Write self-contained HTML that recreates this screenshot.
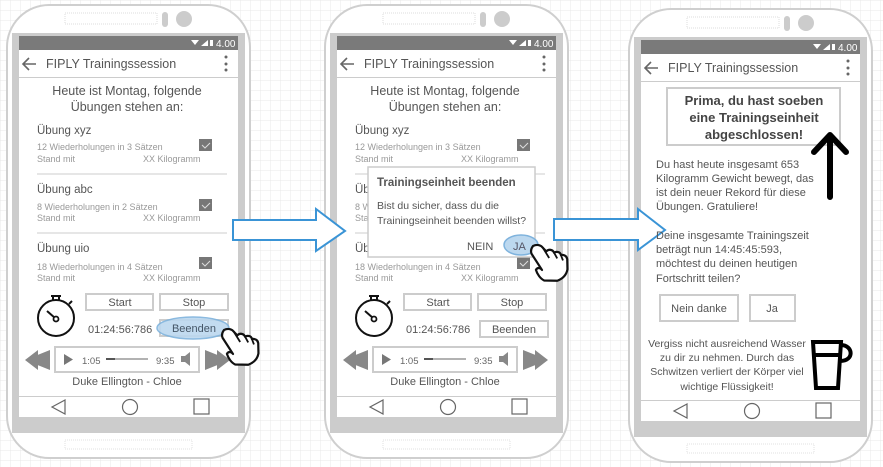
<!DOCTYPE html>
<html><head><meta charset="utf-8"><style>
html,body{margin:0;padding:0;background:#fff;}
svg{display:block;font-family:"Liberation Sans",sans-serif;}
</style></head><body>
<svg width="883" height="467" viewBox="0 0 883 467" xmlns="http://www.w3.org/2000/svg">
<defs>
<pattern id="grid" width="10" height="10" patternUnits="userSpaceOnUse">
<path d="M10 0H0V10" fill="none" stroke="#e8e8e8" stroke-width="1"/>
</pattern>
<g id="frame">
<rect x="7" y="5" width="243" height="453" rx="42" fill="#fff" stroke="#cfcfcf" stroke-width="2"/>
<rect x="65" y="13" width="92" height="11" fill="none" stroke="#ddd" stroke-dasharray="1 1"/>
<rect x="162" y="12" width="6" height="15" rx="3" fill="#ccc"/>
<circle cx="184" cy="19" r="8" fill="#ccc"/>
<rect x="65" y="440" width="127" height="9" fill="none" stroke="#e2e2e2" stroke-dasharray="1 1"/>
<rect x="12" y="33" width="233" height="400" fill="#cccccc"/>
<rect x="19" y="36" width="219" height="14" fill="#7a7a7a"/>
<path d="M191 40 l8 0 l-4 5z" fill="#fff"/>
<path d="M201 46 l7 -6 v6z" fill="#fff"/>
<rect x="210" y="40" width="3" height="6" fill="#fff"/>
<text x="216" y="47" font-size="10" fill="#fff">4.00</text>
<rect x="19" y="50" width="219" height="27" fill="#fff"/>
<path d="M36 64 H23 M29 58 L23 64 L29 70" fill="none" stroke="#666" stroke-width="1.6"/>
<circle cx="226" cy="57" r="1.5" fill="#666"/><circle cx="226" cy="64" r="1.5" fill="#666"/><circle cx="226" cy="70" r="1.5" fill="#666"/>
<text x="46" y="68" font-size="12.5" fill="#555">FIPLY Trainingssession</text>
<rect x="19" y="78" width="219" height="318" fill="#fff"/>
<rect x="19" y="397" width="219" height="20" fill="#fff"/>
<path d="M65 400 L52 407 L65 414z" fill="none" stroke="#666" stroke-width="1.2"/>
<circle cx="130" cy="407" r="7.5" fill="none" stroke="#666" stroke-width="1.2"/>
<rect x="194" y="399" width="15" height="15" fill="none" stroke="#666" stroke-width="1.2"/>
</g>
<g id="list">
<text x="127" y="95" font-size="12.5" fill="#555" text-anchor="middle">Heute ist Montag, folgende</text>
<text x="127" y="111" font-size="12.5" fill="#555" text-anchor="middle">Übungen stehen  an:</text>
<text x="37" y="134" font-size="11.5" fill="#555">Übung xyz</text>
<text x="37" y="150" font-size="9" fill="#999">12 Wiederholungen in 3 Sätzen</text>
<text x="37" y="162" font-size="9" fill="#999">Stand mit</text>
<text x="143" y="162" font-size="9" fill="#999">XX Kilogramm</text>
<rect x="199" y="139" width="13" height="12" fill="#777"/><path d="M202 145 l3 3 l5 -5" stroke="#ddd" fill="none"/>
<line x1="37" y1="174" x2="227" y2="174" stroke="#ccc"/>
<text x="37" y="193" font-size="11.5" fill="#555">Übung abc</text>
<text x="37" y="210" font-size="9" fill="#999">8 Wiederholungen in 2 Sätzen</text>
<text x="37" y="221" font-size="9" fill="#999">Stand mit</text>
<text x="143" y="221" font-size="9" fill="#999">XX Kilogramm</text>
<rect x="199" y="199" width="13" height="12" fill="#777"/><path d="M202 205 l3 3 l5 -5" stroke="#ddd" fill="none"/>
<line x1="37" y1="233" x2="227" y2="233" stroke="#ccc"/>
<text x="37" y="252" font-size="11.5" fill="#555">Übung uio</text>
<text x="37" y="270" font-size="9" fill="#999">18 Wiederholungen in 4 Sätzen</text>
<text x="37" y="281" font-size="9" fill="#999">Stand mit</text>
<text x="143" y="281" font-size="9" fill="#999">XX Kilogramm</text>
<rect x="199" y="257" width="13" height="12" fill="#777"/><path d="M202 263 l3 3 l5 -5" stroke="#ddd" fill="none"/>
<circle cx="56" cy="318" r="18" fill="none" stroke="#111" stroke-width="2"/>
<path d="M51 296 h10 M53 296 v4 M59 296 v4 M69 304 l3 -3" stroke="#111" stroke-width="2" fill="none"/>
<path d="M47 311 L55 318" stroke="#111" stroke-width="2"/><circle cx="56" cy="319" r="2.5" fill="#fff" stroke="#111" stroke-width="1.8"/>
<rect x="86" y="294" width="67" height="16" fill="#fff" stroke="#ccc" stroke-width="2"/>
<text x="120" y="306" font-size="11" fill="#555" text-anchor="middle">Start</text>
<rect x="160" y="294" width="68" height="16" fill="#fff" stroke="#ccc" stroke-width="2"/>
<text x="194" y="306" font-size="11" fill="#555" text-anchor="middle">Stop</text>
<text x="88" y="333" font-size="11" fill="#555">01:24:56:786</text>
<path d="M50 350 L25 360 L50 370z M38 350 L25 360 L38 370z" fill="#888"/>
<path d="M205 350 L230 360 L205 370z M217 350 L230 360 L217 370z" fill="#888"/>
<rect x="55" y="347" width="144" height="25" fill="#fff" stroke="#ccc" stroke-width="2"/>
<path d="M64 354 L73 359.5 L64 365z" fill="#777"/>
<text x="82" y="364" font-size="9.5" fill="#666">1:05</text>
<line x1="106" y1="359" x2="148" y2="359" stroke="#999" stroke-width="1.5"/><line x1="106" y1="359" x2="115" y2="359" stroke="#555" stroke-width="2"/>
<text x="156" y="364" font-size="9.5" fill="#666">9:35</text>
<path d="M181 356 h4 l5 -4 v14 l-5 -4 h-4z" fill="#888"/>
<text x="127" y="385" font-size="11" fill="#555" text-anchor="middle">Duke Ellington - Chloe</text>
</g>
<g id="hand">
<path d="M0 0 c4 -3 8 -2 10 0 l4 3 c2 -3 6 -3 8 0 c2 -2 6 -2 7 1 c3 -1 6 0 7 3 l2 10 c0 6 -3 10 -8 13 l-13 2 c-4 -1 -8 -5 -10 -9 c1 -3 4 -3 6 -1 l-13 -14 c-2 -3 -1 -6 0 -8z" fill="#fff" stroke="#111" stroke-width="2.2" stroke-linejoin="round"/>
<path d="M10 0 l8 9 M22 3 l4 5 M29 4 l3 5" stroke="#111" stroke-width="1.8" fill="none"/>
</g>
</defs>
<rect width="883" height="467" fill="#fff"/>
<rect width="883" height="467" fill="url(#grid)"/>

<use href="#frame"/>
<use href="#list"/>
<rect x="160" y="320" width="68" height="16" fill="#fff" stroke="#ccc" stroke-width="2"/>
<ellipse cx="193" cy="328" rx="36" ry="11" fill="#bcd8ef" stroke="#7fb3dd" stroke-width="1.5" opacity="0.9"/>
<text x="194" y="332" font-size="11" fill="#456" text-anchor="middle">Beenden</text>
<use href="#hand" transform="translate(224,330) rotate(10)"/>

<g transform="translate(318,0)">
<use href="#frame"/>
<use href="#list"/>
<rect x="162" y="321" width="68" height="16" fill="#fff" stroke="#ccc" stroke-width="2"/>
<text x="196" y="333" font-size="11" fill="#555" text-anchor="middle">Beenden</text>
<rect x="50" y="167" width="167" height="90" fill="#fff" stroke="#ccc" stroke-width="1.5"/>
<text x="59" y="186" font-size="11.5" fill="#555" font-weight="bold">Trainingseinheit beenden</text>
<text x="59" y="209" font-size="10.5" fill="#555">Bist du sicher, dass du die</text>
<text x="59" y="224" font-size="10.5" fill="#555">Trainingseinheit beenden willst?</text>
<text x="149" y="250" font-size="11" fill="#555">NEIN</text>
<ellipse cx="203" cy="245" rx="17" ry="10" fill="#bcd8ef" stroke="#7fb3dd" stroke-width="1.5"/>
<text x="195" y="250" font-size="11" fill="#556">JA</text>
<use href="#hand" transform="translate(215,246) rotate(10)"/>
</g>

<g transform="translate(622,4)">
<use href="#frame"/>
</g>
<rect x="667" y="88" width="173" height="57" fill="#fff" stroke="#ccc" stroke-width="2"/>
<text x="754" y="105" font-size="13" font-weight="bold" fill="#444" text-anchor="middle">Prima, du hast soeben</text>
<text x="754" y="122" font-size="13" font-weight="bold" fill="#444" text-anchor="middle">eine Trainingseinheit</text>
<text x="754" y="139" font-size="13" font-weight="bold" fill="#444" text-anchor="middle">abgeschlossen!</text>
<path d="M830 197 V135 M814 152 L830 135 L846 152" stroke="#000" stroke-width="6" fill="none" stroke-linecap="round" stroke-linejoin="round"/>
<g font-size="11" fill="#555">
<text x="656" y="168">Du hast heute insgesamt 653</text>
<text x="656" y="182">Kilogramm Gewicht bewegt, das</text>
<text x="656" y="196">ist dein neuer Rekord für diese</text>
<text x="656" y="210">Übungen. Gratuliere!</text>
</g>
<rect x="660" y="295" width="78" height="26" fill="#fff" stroke="#ccc" stroke-width="2"/>
<text x="699" y="312" font-size="11" fill="#555" text-anchor="middle">Nein danke</text>
<rect x="750" y="295" width="45" height="26" fill="#fff" stroke="#ccc" stroke-width="2"/>
<text x="772" y="312" font-size="11" fill="#555" text-anchor="middle">Ja</text>
<g font-size="10.5" fill="#555" text-anchor="middle">
<text x="727" y="347">Vergiss nicht ausreichend Wasser</text>
<text x="727" y="361">zu dir zu nehmen. Durch das</text>
<text x="727" y="375">Schwitzen verliert der Körper viel</text>
<text x="727" y="390">wichtige Flüssigkeit!</text>
</g>
<path d="M813 342 H841 L838 388 H816z M813 355 H841 M841 345 c12 0 14 16 -1 16" stroke="#000" stroke-width="4" fill="none"/>

<path d="M233 220 H316 V209 L345 231 L316 251 V240 H233z" fill="#fff" stroke="#3a94d6" stroke-width="2"/>
<path d="M554 219 H638 V209 L665 230 L638 250 V240 H554z" fill="#fff" stroke="#3a94d6" stroke-width="2"/>
<g font-size="11" fill="#555">
<text x="656" y="239">Deine insgesamte Trainingszeit</text>
<text x="656" y="253">beträgt nun 14:45:45:593,</text>
<text x="656" y="267">möchtest du deinen heutigen</text>
<text x="656" y="282">Fortschritt teilen?</text>
</g>
</svg>
</body></html>
